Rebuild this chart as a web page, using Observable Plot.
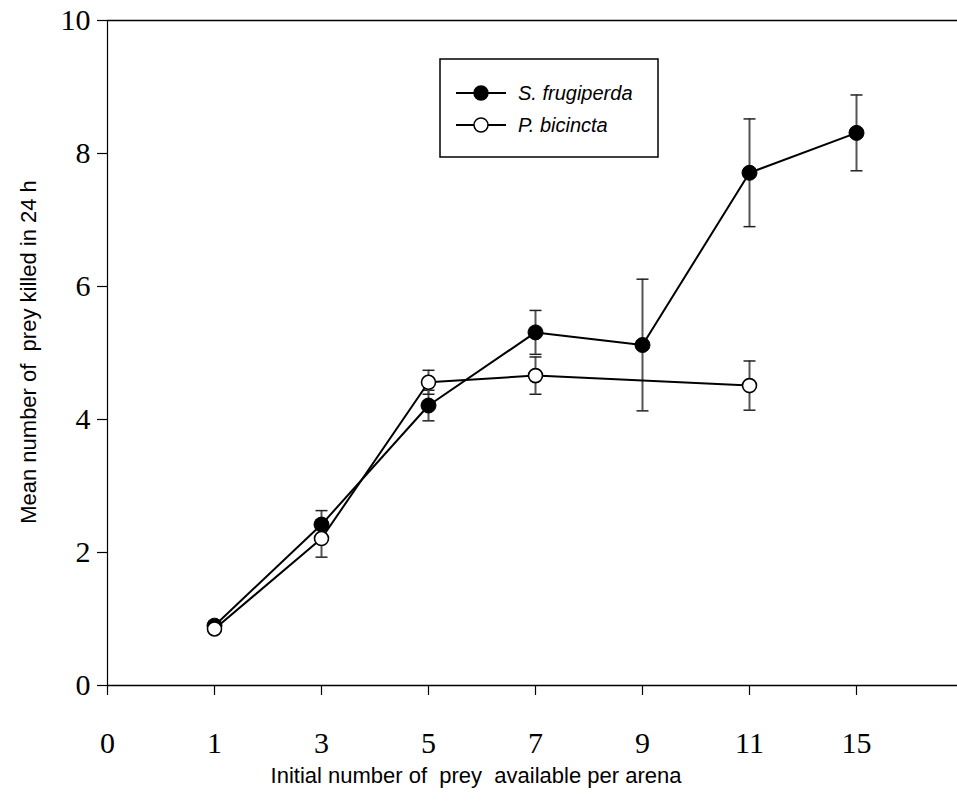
<!DOCTYPE html>
<html>
<head>
<meta charset="utf-8">
<script src="https://cdn.jsdelivr.net/npm/d3@7"></script>
<script src="https://cdn.jsdelivr.net/npm/@observablehq/plot@0.6"></script>
<style>
  html, body { margin: 0; padding: 0; background: white; }
</style>
</head>
<body>
<div id="chart"></div>
<script>
// ---- data ----
const xTickLabels = ["0", "1", "3", "5", "7", "9", "11", "15"];
const yTicks = [0, 2, 4, 6, 8, 10];

const sfPrey = [1, 3, 5, 7, 9, 11, 15];
const sfMean = [0.9, 2.42, 4.21, 5.31, 5.12, 7.71, 8.31];
const sfSE   = [0.05, 0.21, 0.23, 0.33, 0.99, 0.81, 0.57];

const pbPrey = [1, 3, 5, 7, 11];
const pbMean = [0.85, 2.21, 4.56, 4.66, 4.51];
const pbSE   = [0.05, 0.28, 0.18, 0.28, 0.37];

const seriesNames = ["S. frugiperda", "P. bicincta"];
const xTitle = "Initial number of  prey  available per arena";
const yTitle = "Mean number of  prey killed in 24 h";

// ---- build tables ----
const idx = v => xTickLabels.indexOf(String(v));
const sf = sfPrey.map((p, i) => ({pos: idx(p), mean: sfMean[i], lo: sfMean[i] - sfSE[i], hi: sfMean[i] + sfSE[i]}));
const pb = pbPrey.map((p, i) => ({pos: idx(p), mean: pbMean[i], lo: pbMean[i] - pbSE[i], hi: pbMean[i] + pbSE[i]}));

const capSymbol = {
  draw(context, size) {
    const w = Math.sqrt(size / Math.PI);
    context.moveTo(-w, 0);
    context.lineTo(w, 0);
  }
};

const serif = "'Liberation Serif', 'Times New Roman', serif";
const sans = "'Liberation Sans', Arial, sans-serif";
const errColor = "#555";

const errMarks = data => [
  Plot.ruleX(data, {x: "pos", y1: "lo", y2: "hi", stroke: errColor, strokeWidth: 2}),
  Plot.dot(data, {x: "pos", y: "lo", symbol: capSymbol, r: 6, stroke: "#222", strokeWidth: 1.5}),
  Plot.dot(data, {x: "pos", y: "hi", symbol: capSymbol, r: 6, stroke: "#222", strokeWidth: 1.5})
];

const chart = Plot.plot({
  width: 957,
  height: 801,
  marginLeft: 107,
  marginRight: 0,
  marginTop: 20,
  marginBottom: 116,
  style: {background: "white", color: "black"},
  x: {type: "linear", domain: [0, 8], range: [107, 963]},
  y: {domain: [0, 10]},
  marks: [
    Plot.ruleY([0, 10], {stroke: "black", strokeWidth: 1.5}),
    Plot.ruleX([0], {y1: 0, y2: 10, stroke: "black", strokeWidth: 1.2}),
    Plot.axisX({
      ticks: d3.range(xTickLabels.length),
      tickFormat: i => xTickLabels[i],
      tickSize: 10,
      tickPadding: 36,
      fontSize: 30,
      fontFamily: serif,
      label: null,
      strokeWidth: 1.2
    }),
    Plot.axisY({
      ticks: yTicks,
      tickSize: 10,
      tickPadding: 7,
      fontSize: 30,
      fontFamily: serif,
      label: null,
      strokeWidth: 1.2
    }),
    ...errMarks(sf),
    ...errMarks(pb),
    Plot.line(sf, {x: "pos", y: "mean", stroke: "black", strokeWidth: 2}),
    Plot.line(pb, {x: "pos", y: "mean", stroke: "black", strokeWidth: 2}),
    Plot.dot(sf, {x: "pos", y: "mean", r: 7.5, fill: "black", stroke: "black", strokeWidth: 1}),
    Plot.dot(pb, {x: "pos", y: "mean", r: 7, fill: "white", stroke: "black", strokeWidth: 1.6})
  ]
});

const svg = d3.select(chart);

// axis titles
svg.append("text")
  .attr("x", 476).attr("y", 783)
  .attr("text-anchor", "middle")
  .style("font-family", sans).style("font-size", "22px").style("white-space", "pre")
  .attr("fill", "black")
  .text(xTitle);

svg.append("text")
  .attr("transform", "translate(36,352) rotate(-90)")
  .attr("text-anchor", "middle")
  .style("font-family", sans).style("font-size", "22px").style("white-space", "pre")
  .attr("fill", "black")
  .text(yTitle);

// legend
const lg = svg.append("g");
lg.append("rect").attr("x", 440).attr("y", 59).attr("width", 218).attr("height", 98)
  .attr("fill", "white").attr("stroke", "black").attr("stroke-width", 1.5);
const rows = [
  {name: seriesNames[0], fill: "black", y: 93},
  {name: seriesNames[1], fill: "white", y: 125}
];
rows.forEach(r => {
  lg.append("line").attr("x1", 456).attr("x2", 506).attr("y1", r.y).attr("y2", r.y)
    .attr("stroke", "black").attr("stroke-width", 2);
  lg.append("circle").attr("cx", 481).attr("cy", r.y).attr("r", 7)
    .attr("fill", r.fill).attr("stroke", "black").attr("stroke-width", 1.5);
  lg.append("text").attr("x", 518).attr("y", r.y + 7)
    .attr("text-anchor", "start")
    .style("font-family", sans).style("font-size", "20px").style("font-style", "italic")
    .attr("fill", "black")
    .text(r.name);
});

document.getElementById("chart").appendChild(chart);
</script>
</body>
</html>
